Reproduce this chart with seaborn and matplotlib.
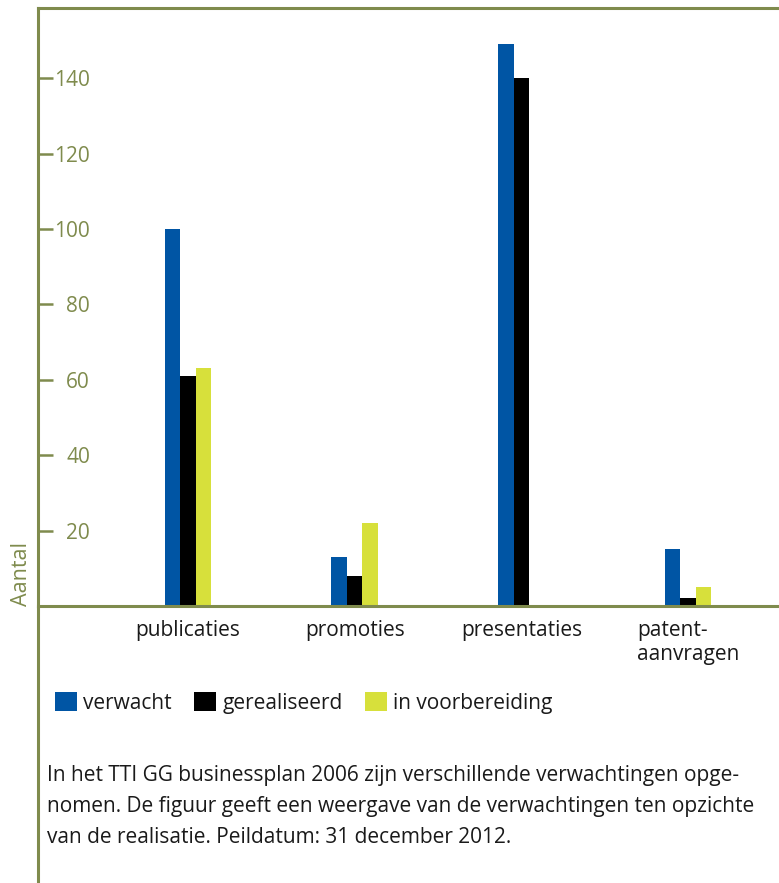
import numpy as np
import pandas as pd
import matplotlib.pyplot as plt
import seaborn as sns
from matplotlib.patches import Patch
from matplotlib.lines import Line2D

# Gegevens
categorieen = ["publicaties", "promoties", "presentaties", "patent-\naanvragen"]
series = ["verwacht", "gerealiseerd", "in voorbereiding"]
verwacht = [100, 13, 149, 15]
gerealiseerd = [61, 8, 140, 2]
in_voorbereiding = [63, 22, 0, 5]
kleuren = ["#0055a4", "#000000", "#d7e03b"]
y_ticks = [20, 40, 60, 80, 100, 120, 140]
bijschrift = ("In het TTI GG businessplan 2006 zijn verschillende verwachtingen opge-\n"
              "nomen. De figuur geeft een weergave van de verwachtingen ten opzichte\n"
              "van de realisatie. Peildatum: 31 december 2012.")

olijf = "#7f8b4d"
tekst = "#1a1a1a"

df = pd.DataFrame({
    "categorie": categorieen * 3,
    "serie": [s for s in series for _ in categorieen],
    "aantal": verwacht + gerealiseerd + in_voorbereiding,
})

sns.set_theme(style="white")
plt.rcParams["font.family"] = ["Open Sans", "DejaVu Sans"]

W, H = 779, 883
fig = plt.figure(figsize=(W / 100, H / 100), dpi=100)
ax = fig.add_axes([38 / W, 277 / H, (W - 38) / W, 598 / H])

sns.barplot(data=df, x="categorie", y="aantal", hue="serie", order=categorieen,
            hue_order=series, palette=kleuren, saturation=1, width=0.28, gap=0,
            linewidth=0, legend=False, ax=ax)

ax.set_xlim(-0.9, 3.546)
ax.set_ylim(0, 158.6)
ax.set_yticks(y_ticks)
ax.set_xlabel("")
ax.set_ylabel("Aantal", loc="bottom", color=olijf, fontsize=15.5, labelpad=4)

for kant in ["left", "top", "bottom"]:
    ax.spines[kant].set_color(olijf)
    ax.spines[kant].set_linewidth(2.2)
ax.spines["right"].set_visible(False)

ax.tick_params(axis="y", direction="in", length=11, width=1.8, color=olijf,
               labelcolor=olijf, labelsize=15, pad=-37.4, left=True)
ax.tick_params(axis="x", length=0, pad=10, labelsize=15, labelcolor=tekst)
for lbl in ax.get_xticklabels():
    lbl.set_multialignment("left")

# linker lijn loopt door tot onderkant
fig.add_artist(Line2D([38 / W, 38 / W], [0, 277 / H], color=olijf, linewidth=2.2))

handles = [Patch(facecolor=c, edgecolor="none", label=s) for s, c in zip(series, kleuren)]
fig.legend(handles=handles, loc="upper left", bbox_to_anchor=(55 / W, 1 - 692 / H),
           ncol=3, frameon=False, fontsize=15, handlelength=1.05, handleheight=1.05,
           handletextpad=0.3, columnspacing=1.08, borderpad=0, borderaxespad=0,
           labelcolor=tekst)

fig.text(47 / W, 1 - 765 / H, bijschrift, ha="left", va="top", fontsize=15,
         color=tekst, linespacing=1.63)

fig.savefig("out.png", dpi=100)
plt.close()
